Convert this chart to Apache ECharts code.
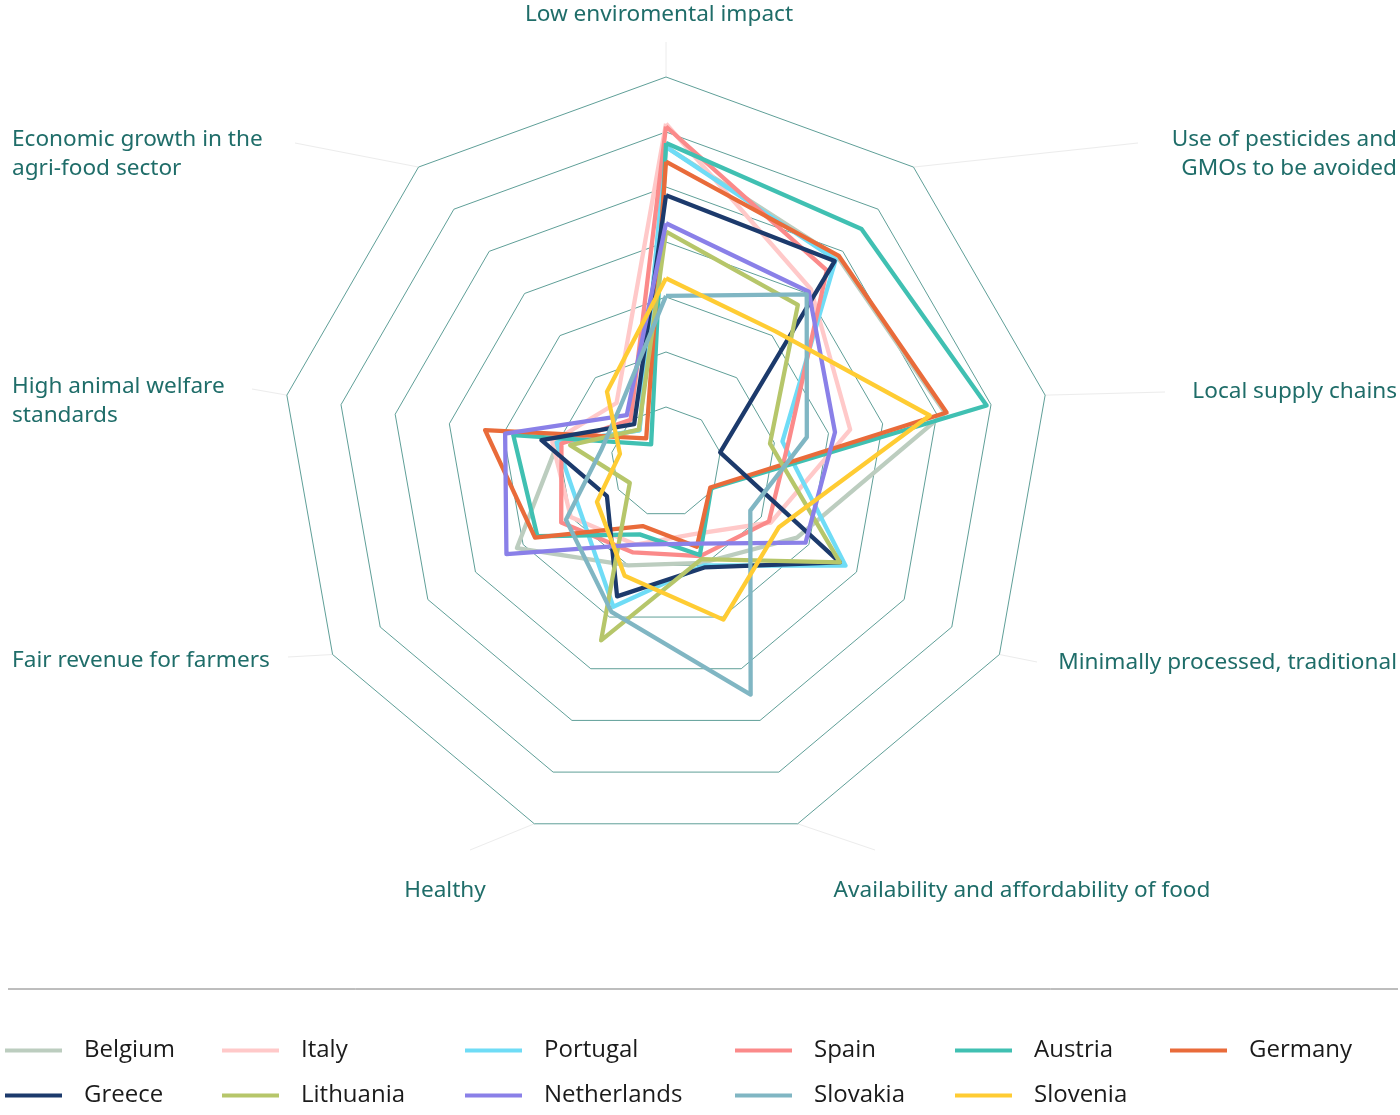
<!DOCTYPE html>
<html>
<head>
<meta charset="utf-8">
<script src="https://cdn.jsdelivr.net/npm/echarts@6/dist/echarts.min.js"></script>
<style>
  html, body { margin: 0; padding: 0; background: #fff; }
  #chart { width: 1400px; height: 1115px; }
</style>
</head>
<body>
<div id="chart"></div>
<script>
// indicators in the order echarts lays them out (top, then counter-clockwise)
const indicators = [
  'Low enviromental impact',
  'Economic growth in the\nagri-food sector',
  'High animal welfare\nstandards',
  'Fair revenue for farmers',
  'Healthy',
  'Availability and affordability of food',
  'Minimally processed, traditional',
  'Local supply chains',
  'Use of pesticides and\nGMOs to be avoided'
];

const belgium     = [57.3, 7.5, 20, 31.3, 20, 19.5, 27.5, 51.5, 48.6];
const italy       = [61.5, 14, 21, 20, 16, 14, 22, 34, 41];
const portugal    = [57.3, 7.5, 20.2, 18, 28, 20, 37.7, 21.5, 48];
const spain       = [61, 10, 19.3, 22, 17.5, 18.2, 21.6, 22.7, 45.5];
const austria     = [58, 4.2, 28.2, 27, 14, 18, 9.5, 59.2, 55.3];
const germany     = [54.6, 5.6, 33.4, 27.5, 12.4, 16.4, 9.3, 51.8, 48.9];
const greece      = [48.5, 9, 23, 12.4, 26, 20.4, 36.5, 10, 47.7];
const lithuania   = [41.9, 7.7, 17.7, 7.6, 34.5, 18.8, 36.5, 19.2, 37.3];
const netherlands = [43.4, 11.1, 29.7, 33.5, 16, 15.8, 29.3, 31.2, 40.4];
const slovakia    = [30.2, 13, 12, 21, 29, 45, 17.7, 26, 39.8];
const slovenia    = [33.4, 16.7, 8.5, 14.5, 22, 30.5, 23.7, 48.7, 31];

const countries = [
  ['Belgium', belgium, '#bccdbf'],
  ['Italy', italy, '#ffc9c9'],
  ['Portugal', portugal, '#6fdcf6'],
  ['Spain', spain, '#fb8a8a'],
  ['Austria', austria, '#40c0b2'],
  ['Germany', germany, '#e96b3a'],
  ['Greece', greece, '#1c3a6c'],
  ['Lithuania', lithuania, '#b6c66a'],
  ['Netherlands', netherlands, '#8a80e8'],
  ['Slovakia', slovakia, '#80b6c3'],
  ['Slovenia', slovenia, '#ffcc33']
];

const axisMax = 70;
const center = [666, 462];
const radius = 385;

// where each axis name sits (same order as indicators)
const nameLayout = [
  { x: 659, y: 15, align: 'center' },
  { x: 12, y: 154, align: 'left' },
  { x: 12, y: 401, align: 'left' },
  { x: 12, y: 661, align: 'left' },
  { x: 445, y: 891, align: 'center' },
  { x: 1022, y: 891, align: 'center' },
  { x: 1397, y: 663, align: 'right' },
  { x: 1397, y: 392, align: 'right' },
  { x: 1397, y: 154, align: 'right' }
];
// faint leader lines from each outer vertex towards its label
const leaderEnds = [
  [666, 42], [295, 143], [252, 389], [288, 657], [470, 850],
  [875, 850], [1037, 662], [1165, 392], [1138, 143]
];

const graphics = [];
indicators.forEach((name, i) => {
  const ang = Math.PI / 2 + i * 2 * Math.PI / indicators.length;
  const vx = center[0] + radius * Math.cos(ang);
  const vy = center[1] - radius * Math.sin(ang);
  graphics.push({
    type: 'line', silent: true,
    shape: { x1: vx, y1: vy, x2: leaderEnds[i][0], y2: leaderEnds[i][1] },
    style: { stroke: '#ececec', lineWidth: 1 }
  });
  const p = nameLayout[i];
  graphics.push({
    type: 'text', x: p.x, y: p.y,
    style: {
      text: name, fill: '#1f6d69', font: '22.6px "Noto Sans"',
      align: p.align, verticalAlign: 'middle', lineHeight: 29
    }
  });
});
graphics.push({
  type: 'line', silent: true,
  shape: { x1: 8, y1: 989, x2: 1398, y2: 989 },
  style: { stroke: '#7d7d7d', lineWidth: 1 }
});

// legend: two rows, six columns
const legendCols = [5, 222, 465, 735, 955, 1170];
const legends = legendCols.map((col, c) => ({
  orient: 'vertical',
  left: col - 5,
  top: 1032,
  icon: 'rect',
  itemWidth: 57,
  itemHeight: 4,
  itemGap: 18,
  selectedMode: false,
  data: [countries[c], countries[c + 6]].filter(Boolean).map(d => d[0]),
  textStyle: {
    fontFamily: 'Open Sans', fontSize: 24, color: '#1b1b1b',
    lineHeight: 27, padding: [0, 0, 0, 17]
  }
}));

const chart = echarts.init(document.getElementById('chart'));
chart.setOption({
  backgroundColor: '#fff',
  animation: false,
  legend: legends,
  radar: {
    center: center,
    radius: radius,
    startAngle: 90,
    splitNumber: 7,
    shape: 'polygon',
    indicator: indicators.map(n => ({ name: n, min: 0, max: axisMax })),
    axisName: { show: false },
    axisLine: { show: false },
    axisTick: { show: false },
    axisLabel: { show: false },
    splitArea: { show: false },
    splitLine: { lineStyle: { color: '#5f9f98', width: 1 } }
  },
  graphic: graphics,
  series: countries.map(([name, values, color]) => ({
    type: 'radar',
    name: name,
    symbol: 'none',
    color: color,
    lineStyle: { width: 4.3, color: color },
    itemStyle: { color: color },
    data: [{ name: name, value: values }]
  }))
});
</script>
</body>
</html>
